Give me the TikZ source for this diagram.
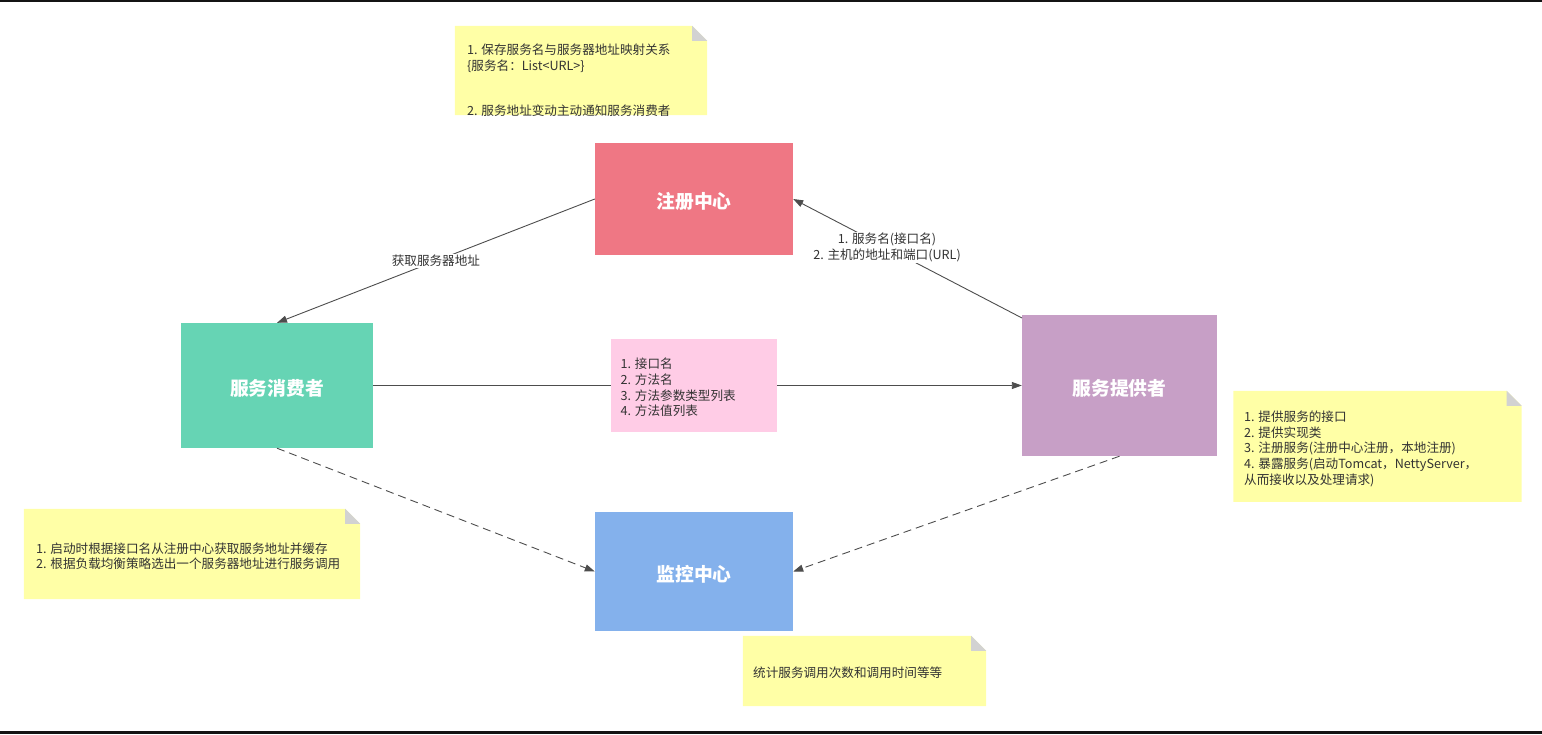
\documentclass[tikz,border=0pt]{standalone}
\usepackage{fontspec}
\setmainfont{Noto Sans CJK SC}
\usetikzlibrary{arrows.meta,calc}
\definecolor{regc}{HTML}{EF7784}
\definecolor{conc}{HTML}{66D4B4}
\definecolor{proc}{HTML}{C79FC6}
\definecolor{monc}{HTML}{84B1EC}
\definecolor{pinkc}{HTML}{FFCCE6}
\definecolor{notey}{HTML}{FFFFA6}
\definecolor{foldc}{HTML}{D2D2D2}
\definecolor{txtc}{HTML}{333333}
\definecolor{linec}{HTML}{4D4D4D}
\definecolor{barc}{HTML}{141414}
\newcommand\foldnote[1]{%
  \fill[notey] (#1.north west) -- ($(#1.north east)+(-15,0)$) -- ($(#1.north east)+(0,15)$) -- (#1.south east) -- (#1.south west) -- cycle;
  \fill[foldc] ($(#1.north east)+(-15,0)$) -- ($(#1.north east)+(-15,15)$) -- ($(#1.north east)+(0,15)$) -- cycle;}
\newcommand\lowered[1]{\raisebox{-2.5pt}[\height][\depth]{#1}}
\begin{document}
\begin{tikzpicture}[x=1pt,y=-1pt,
  box/.style={draw=none,inner sep=0pt,text=white,font=\fontsize{18.8}{22}\selectfont\bfseries},
  notebg/.style={draw=none,inner sep=0pt},
  notetext/.style={inner sep=0pt,anchor=west,align=left,text=txtc,font=\fontsize{12.6}{15.7}\selectfont},
  elabel/.style={fill=white,inner sep=1pt,align=center,text=txtc,font=\fontsize{12.6}{16}\selectfont},
  conn/.style={draw=linec,line width=0.9pt,-{Triangle[length=10pt,width=7pt]}},
  dconn/.style={conn,dash pattern=on 8pt off 5pt}]
\useasboundingbox (0,0) rectangle (1542,734);
\fill[barc] (0,0) rectangle (1542,2.2);
\fill[barc] (0,730.8) rectangle (1542,734);

% main boxes
\node[box,fill=regc,minimum width=198pt,minimum height=112pt] (reg) at (694,199) {\lowered{注册中心}};
\node[box,fill=conc,minimum width=192pt,minimum height=125pt] (con) at (277,385.5) {\lowered{服务消费者}};
\node[box,fill=proc,minimum width=195pt,minimum height=141pt] (pro) at (1119.5,385.5) {\lowered{服务提供者}};
\node[box,fill=monc,minimum width=198pt,minimum height=119pt] (mon) at (694,571.5) {\lowered{监控中心}};
\coordinate (ps) at (1022,318);

% connectors
\draw[conn] (reg.west) -- (con.north) node[elabel,pos=0.5] (l1) {获取服务器地址};
\draw[conn] (ps) -- (reg.east) node[elabel,pos=0.59] (l2) {1. 服务名(接口名)\\2. 主机的地址和端口(URL)};
\draw[conn] (con.east) -- (pro.west);
\draw[dconn] (con.south) -- (mon.west);
\draw[dconn] (pro.south) -- (mon.east);

% pink parameter note
\node[notebg,fill=pinkc,minimum width=166pt,minimum height=93pt] (pk) at (694,385.5) {};
\node[notetext] (pkt) at (620.5,387.5) {1. 接口名\\2. 方法名\\3. 方法参数类型列表\\4. 方法值列表};

% yellow notes
\node[notebg,minimum width=252pt,minimum height=89pt] (n1) at (581,70.5) {};
\foldnote{n1}
\node[notetext] (t1) at (467,80.5) {1. 保存服务名与服务器地址映射关系\\\{服务名：List<URL>\}\\[29.6pt]2. 服务地址变动主动通知服务消费者};

\node[notebg,minimum width=288pt,minimum height=110.5pt] (n2) at (1377.5,446.3) {};
\foldnote{n2}
\node[notetext] (t2) at (1244,448.7) {1. 提供服务的接口\\2. 提供实现类\\3. 注册服务(注册中心注册，本地注册)\\4. 暴露服务(启动Tomcat，NettyServer，\\从而接收以及处理请求)};

\node[notebg,minimum width=336pt,minimum height=90pt] (n3) at (192,554) {};
\foldnote{n3}
\node[notetext] (t3) at (36,556.3) {1. 启动时根据接口名从注册中心获取服务地址并缓存\\2. 根据负载均衡策略选出一个服务器地址进行服务调用};

\node[notebg,minimum width=243pt,minimum height=70pt] (n4) at (864.5,671) {};
\foldnote{n4}
\node[notetext] (t4) at (753,673) {统计服务调用次数和调用时间等等};
\end{tikzpicture}
\end{document}
